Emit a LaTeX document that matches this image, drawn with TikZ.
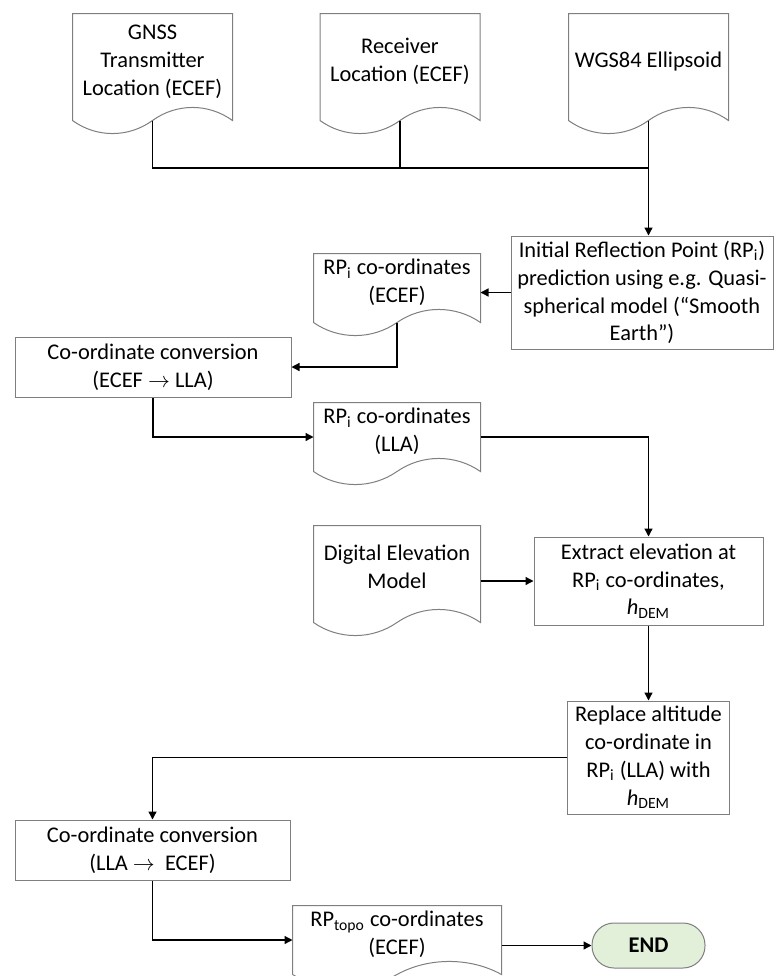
\documentclass[tikz,border=0pt]{standalone}
\usepackage{fontspec}
\setmainfont{Carlito}
\usetikzlibrary{arrows.meta,calc}
\definecolor{ink}{HTML}{000000}
\definecolor{boxgray}{HTML}{7F7F7F}
\definecolor{endgreen}{HTML}{E2EFD9}
\tikzset{
  block/.style={
    draw=boxgray,
    line width=0.5pt,
    align=center,
    inner sep=2pt,
    font=\fontsize{11.2}{13.9}\selectfont
  },
  docblock/.style={
    block,
    draw=none,
    text depth=7pt
  },
  terminal/.style={
    block,
    fill=endgreen,
    rounded corners=11pt,
    font=\fontsize{11.2}{13.9}\selectfont\bfseries
  },
  docline/.style={
    draw=boxgray,
    line width=0.5pt
  },
  link/.style={
    draw=ink,
    line width=0.65pt
  },
  arrow/.style={
    link,
    -{Triangle[length=4pt,width=4pt]}
  }
}

\begin{document}
\begin{tikzpicture}[x=0.5pt,y=-0.5pt]
  \useasboundingbox (0,0) rectangle (774,976);

  % input documents
  \node[docblock, minimum width=79.5pt, minimum height=53pt] (gnss) at (152.5,67)
    {GNSS\\Transmitter\\Location (ECEF)};
  \node[docblock, minimum width=79.5pt, minimum height=53pt] (rcvr) at (400,67)
    {Receiver\\Location (ECEF)};
  \node[docblock, minimum width=79.5pt, minimum height=53pt] (wgs) at (648.5,67)
    {WGS84 Ellipsoid};

  \node[block, minimum width=131pt, minimum height=56.5pt] (init) at (642,292.5)
    {Initial Reflection Point (RP\textsubscript{i})\\
     prediction using e.g. Quasi-\\
     spherical model (“Smooth\\
     Earth”)};
  \node[docblock, minimum width=83pt, minimum height=34pt] (rpecef) at (397,288)
    {RP\textsubscript{i} co-ordinates\\(ECEF)};
  \node[block, minimum width=138pt, minimum height=30pt] (conv1) at (153,367)
    {Co-ordinate conversion\\(ECEF $\rightarrow$ LLA)};
  \node[docblock, minimum width=83pt, minimum height=34pt] (rplla) at (397,437)
    {RP\textsubscript{i} co-ordinates\\(LLA)};

  \node[docblock, minimum width=83pt, minimum height=48pt] (dem) at (397,574)
    {Digital Elevation\\Model};
  \node[block, minimum width=114.5pt, minimum height=44pt] (extract) at (648.5,581)
    {Extract elevation at\\
     RP\textsubscript{i} co-ordinates,\\
     \textit{h}\textsubscript{DEM}};
  \node[block, minimum width=81pt, minimum height=56.5pt] (replace) at (648.5,757.5)
    {Replace altitude\\
     co-ordinate in\\
     RP\textsubscript{i} (LLA) with\\
     \textit{h}\textsubscript{DEM}};

  \node[block, minimum width=137.5pt, minimum height=30pt] (conv2) at (152.5,850)
    {Co-ordinate conversion\\(LLA $\rightarrow$\ \ ECEF)};
  \node[docblock, minimum width=104pt, minimum height=34pt] (rptopo) at (397,940)
    {RP\textsubscript{topo} co-ordinates\\(ECEF)};
  \node[terminal, minimum width=56.5pt, minimum height=22.5pt] (end) at (648.5,945.5)
    {END};

  % wavy document outlines
  \foreach \nd in {gnss,rcvr,wgs,rpecef,rplla,dem,rptopo} {
    \draw[docline] (\nd.south west) -- (\nd.north west) -- (\nd.north east) -- (\nd.south east)
      .. controls ($(\nd.south east)!0.15!(\nd.south west)+(0,8.7pt)$)
         and ($(\nd.south east)!0.35!(\nd.south west)+(0,8.7pt)$) .. (\nd.south)
      .. controls ($(\nd.south east)!0.65!(\nd.south west)-(0,8.7pt)$)
         and ($(\nd.south east)!0.85!(\nd.south west)-(0,8.7pt)$) .. (\nd.south west);
  }

  \coordinate (bus) at (648.5,168);
  \draw[link] (gnss.south) |- (bus);
  \draw[link] (rcvr.south) -- (rcvr.south |- bus);
  \draw[arrow] (wgs.south) -- (wgs.south |- init.north);
  \draw[arrow] (init.west) -- (init.west -| rpecef.east);
  \draw[arrow] (rpecef.south) |- (conv1.east);
  \draw[arrow] (conv1.south) |- (rplla.west);
  \draw[arrow] (rplla.east) -| (extract.north);
  \draw[arrow] (extract.west -| dem.east) -- (extract.west);
  \draw[arrow] (extract.south) -- (replace.north);
  \draw[arrow] (replace.west) -| (conv2.north);
  \draw[arrow] (conv2.south) |- (rptopo.west);
  \draw[arrow] (end.west -| rptopo.east) -- (end.west);
\end{tikzpicture}
\end{document}
